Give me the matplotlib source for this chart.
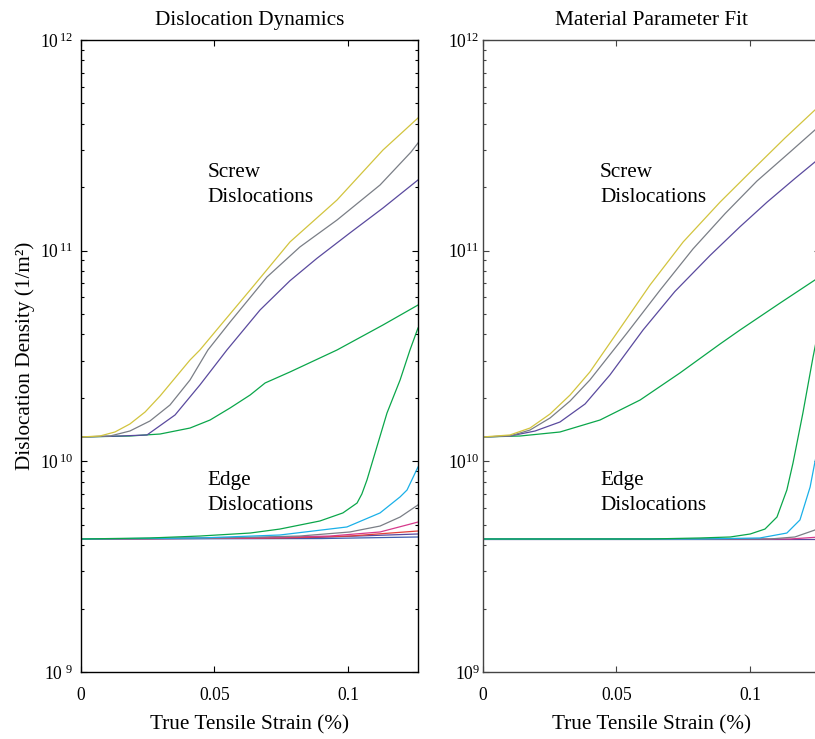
import matplotlib
matplotlib.use("Agg")
import matplotlib.pyplot as plt
from matplotlib.ticker import LogLocator, NullFormatter

plt.rcParams['font.family'] = ['Liberation Serif', 'DejaVu Serif']
plt.rcParams['mathtext.fontset'] = 'custom'
plt.rcParams['mathtext.rm'] = 'Liberation Serif'

# ---- Dislocation Dynamics (left panel) ----
# screw dislocations
dd_yellow_x = [0, 0.0072, 0.0128, 0.0184, 0.0241, 0.0297, 0.0353, 0.0409, 0.0446, 0.0521, 0.0634, 0.0783, 0.0959, 0.1131, 0.1262]
dd_yellow_y = [1.305e10, 1.319e10, 1.378e10, 1.504e10, 1.715e10, 2.043e10, 2.487e10, 3.027e10, 3.377e10, 4.39e10, 6.506e10, 1.10e11, 1.74e11, 3.005e11, 4.265e11]
dd_gray_x = [0, 0.0110, 0.0184, 0.0259, 0.0334, 0.0409, 0.0476, 0.0559, 0.0697, 0.0820, 0.0959, 0.1120, 0.1236, 0.1262]
dd_gray_y = [1.305e10, 1.319e10, 1.393e10, 1.554e10, 1.851e10, 2.433e10, 3.377e10, 4.586e10, 7.499e10, 1.041e11, 1.398e11, 2.05e11, 2.94e11, 3.244e11]
dd_purple_x = [0, 0.0147, 0.0248, 0.0353, 0.0446, 0.0547, 0.0671, 0.0783, 0.0884, 0.1007, 0.1131, 0.1262]
dd_purple_y = [1.305e10, 1.319e10, 1.334e10, 1.66e10, 2.304e10, 3.377e10, 5.229e10, 7.2e10, 9.2e10, 1.213e11, 1.594e11, 2.166e11]
dd_green_x = [0, 0.0184, 0.0297, 0.0409, 0.0484, 0.0559, 0.0634, 0.0690, 0.0783, 0.0959, 0.1131, 0.1262]
dd_green_y = [1.305e10, 1.319e10, 1.348e10, 1.439e10, 1.571e10, 1.792e10, 2.065e10, 2.355e10, 2.656e10, 3.377e10, 4.439e10, 5.52e10]
# edge dislocations
dd_edge_green_x = [0, 0.0259, 0.0446, 0.0634, 0.0745, 0.0895, 0.0981, 0.1034, 0.1052, 0.1071, 0.1108, 0.1146, 0.1195, 0.1232, 0.1262]
dd_edge_green_y = [4.28e9, 4.327e9, 4.42e9, 4.567e9, 4.77e9, 5.21e9, 5.69e9, 6.34e9, 7.0e9, 8.15e9, 1.17e10, 1.696e10, 2.433e10, 3.377e10, 4.295e10]
dd_edge_cyan_x = [0, 0.0446, 0.0745, 0.0996, 0.1120, 0.1195, 0.1221, 0.1262]
dd_edge_cyan_y = [4.28e9, 4.327e9, 4.47e9, 4.88e9, 5.69e9, 6.78e9, 7.31e9, 9.40e9]
dd_edge_gray_x = [0, 0.0521, 0.0820, 0.1007, 0.1120, 0.1195, 0.1262]
dd_edge_gray_y = [4.28e9, 4.327e9, 4.42e9, 4.62e9, 4.93e9, 5.44e9, 6.21e9]
dd_edge_magenta_x = [0, 0.0634, 0.0933, 0.1120, 0.1262]
dd_edge_magenta_y = [4.28e9, 4.327e9, 4.42e9, 4.62e9, 5.15e9]
dd_edge_red_x = [0, 0.0745, 0.1007, 0.1262]
dd_edge_red_y = [4.28e9, 4.327e9, 4.42e9, 4.67e9]
dd_edge_purple_x = [0, 0.0820, 0.1262]
dd_edge_purple_y = [4.28e9, 4.327e9, 4.52e9]
dd_edge_blue_x = [0, 0.0900, 0.1262]
dd_edge_blue_y = [4.28e9, 4.30e9, 4.374e9]

# ---- Material Parameter Fit (right panel) ----
mp_yellow_x = [0, 0.0102, 0.0177, 0.0252, 0.0327, 0.0401, 0.0502, 0.0626, 0.0750, 0.0888, 0.1001, 0.1131, 0.1243, 0.1262]
mp_yellow_y = [1.305e10, 1.334e10, 1.439e10, 1.678e10, 2.065e10, 2.656e10, 4.067e10, 6.871e10, 1.10e11, 1.70e11, 2.36e11, 3.426e11, 4.654e11, 4.86e11]
mp_gray_x = [0, 0.0102, 0.0177, 0.0252, 0.0327, 0.0401, 0.0540, 0.0664, 0.0787, 0.0907, 0.1026, 0.1150, 0.1243, 0.1262]
mp_gray_y = [1.305e10, 1.319e10, 1.408e10, 1.606e10, 1.934e10, 2.433e10, 4.067e10, 6.506e10, 1.02e11, 1.50e11, 2.14e11, 2.94e11, 3.74e11, 3.91e11]
mp_purple_x = [0, 0.0102, 0.0196, 0.0289, 0.0383, 0.0476, 0.0600, 0.0719, 0.0851, 0.0963, 0.1064, 0.1168, 0.1243, 0.1262]
mp_purple_y = [1.305e10, 1.319e10, 1.393e10, 1.537e10, 1.872e10, 2.57e10, 4.203e10, 6.40e10, 9.5e10, 1.30e11, 1.70e11, 2.20e11, 2.636e11, 2.754e11]
mp_green_x = [0, 0.0140, 0.0289, 0.0439, 0.0589, 0.0738, 0.0888, 0.0963, 0.1113, 0.1243, 0.1262]
mp_green_y = [1.305e10, 1.319e10, 1.378e10, 1.571e10, 1.955e10, 2.627e10, 3.606e10, 4.203e10, 5.645e10, 7.258e10, 7.499e10]
mp_edge_green_x = [0, 0.0626, 0.0813, 0.0926, 0.1001, 0.1056, 0.1101, 0.1138, 0.1161, 0.1198, 0.1236, 0.1262]
mp_edge_green_y = [4.28e9, 4.28e9, 4.327e9, 4.374e9, 4.52e9, 4.77e9, 5.44e9, 7.31e9, 9.82e9, 1.696e10, 3.128e10, 4.586e10]
mp_edge_cyan_x = [0, 0.0813, 0.1037, 0.1138, 0.1187, 0.1225, 0.1243, 0.1262]
mp_edge_cyan_y = [4.28e9, 4.28e9, 4.327e9, 4.567e9, 5.27e9, 7.55e9, 9.93e9, 1.263e10]
mp_edge_gray_x = [0, 0.1075, 0.1168, 0.1243, 0.1262]
mp_edge_gray_y = [4.28e9, 4.28e9, 4.374e9, 4.72e9, 4.93e9]
mp_edge_magenta_x = [0, 0.1150, 0.1262]
mp_edge_magenta_y = [4.28e9, 4.28e9, 4.374e9]
mp_edge_purple_x = [0, 0.1262]
mp_edge_purple_y = [4.28e9, 4.28e9]

c_yellow = '#d2c43e'
c_gray = '#7a7e86'
c_purple = '#5a4a9e'
c_green = '#0aa64a'
c_cyan = '#1ab0e8'
c_magenta = '#d63a8c'
c_red = '#e2403a'
c_blue = '#3f5fb0'

dd_lines = [
    (dd_edge_blue_x, dd_edge_blue_y, c_blue),
    (dd_edge_purple_x, dd_edge_purple_y, c_purple),
    (dd_edge_red_x, dd_edge_red_y, c_red),
    (dd_edge_magenta_x, dd_edge_magenta_y, c_magenta),
    (dd_edge_gray_x, dd_edge_gray_y, c_gray),
    (dd_edge_cyan_x, dd_edge_cyan_y, c_cyan),
    (dd_edge_green_x, dd_edge_green_y, c_green),
    (dd_green_x, dd_green_y, c_green),
    (dd_purple_x, dd_purple_y, c_purple),
    (dd_gray_x, dd_gray_y, c_gray),
    (dd_yellow_x, dd_yellow_y, c_yellow),
]
mp_lines = [
    (mp_edge_purple_x, mp_edge_purple_y, c_purple),
    (mp_edge_magenta_x, mp_edge_magenta_y, c_magenta),
    (mp_edge_gray_x, mp_edge_gray_y, c_gray),
    (mp_edge_cyan_x, mp_edge_cyan_y, c_cyan),
    (mp_edge_green_x, mp_edge_green_y, c_green),
    (mp_green_x, mp_green_y, c_green),
    (mp_purple_x, mp_purple_y, c_purple),
    (mp_gray_x, mp_gray_y, c_gray),
    (mp_yellow_x, mp_yellow_y, c_yellow),
]

x_ticks = [0, 0.05, 0.1]
x_ticklabels = ['0', '0.05', '0.1']
y_ticks = [1e9, 1e10, 1e11, 1e12]
dd_yticklabels = [r'$\mathregular{10^{\ 9}}$', r'$\mathregular{10^{\,10}}$', r'$\mathregular{10^{\,11}}$', r'$\mathregular{10^{\,12}}$']
mp_yticklabels = [r'$\mathregular{10^{9}}$', r'$\mathregular{10^{10}}$', r'$\mathregular{10^{11}}$', r'$\mathregular{10^{12}}$']

fs = 15.3
W, H = 815, 739
fig = plt.figure(figsize=(W / 100, H / 100), dpi=100)
ax1 = fig.add_axes([80.7 / W, 67 / H, 337.3 / W, 632 / H])
ax2 = fig.add_axes([482.7 / W, 67 / H, 337.3 / W, 632 / H])

for ax, lines, labels, spine_c, title in [
        (ax1, dd_lines, dd_yticklabels, 'black', 'Dislocation Dynamics'),
        (ax2, mp_lines, mp_yticklabels, '#444444', 'Material Parameter Fit')]:
    for xs, ys, col in lines:
        ax.plot(xs, ys, color=col, lw=0.9)
    ax.set_yscale('log')
    ax.set_xlim(0, 0.1262)
    ax.set_ylim(1e9, 1e12)
    ax.set_xticks(x_ticks)
    ax.set_xticklabels(x_ticklabels)
    ax.set_yticks(y_ticks)
    ax.set_yticklabels(labels)
    ax.yaxis.set_minor_locator(LogLocator(base=10, subs=range(2, 10)))
    ax.yaxis.set_minor_formatter(NullFormatter())
    ax.tick_params(which='both', direction='in', top=True, right=True,
                   width=0.8, color=spine_c)
    ax.tick_params(which='major', length=4.2, labelsize=12.7)
    ax.tick_params(which='minor', length=2.4)
    ax.tick_params(axis='x', pad=10.5)
    for sp in ax.spines.values():
        sp.set_color(spine_c)
        sp.set_linewidth(1.0)
    ax.set_title(title, fontsize=fs, pad=11)
    ax.set_xlabel('True Tensile Strain (%)', fontsize=fs, labelpad=8.5)

ax1.tick_params(axis='y', pad=5)
ax2.tick_params(axis='y', pad=2)

ax1.set_ylabel('Dislocation Density (1/m²)', fontsize=fs)
ax1.yaxis.set_label_coords(-0.135, 0.5)

for ax, tx in [(ax1, 0.0474), (ax2, 0.0439)]:
    ax.text(tx, 2.6e11, 'Screw\nDislocations', fontsize=fs, va='top', ha='left', linespacing=1.42)
    ax.text(tx, 9.0e9, 'Edge\nDislocations', fontsize=fs, va='top', ha='left', linespacing=1.42)

fig.savefig('out.png', dpi=100)
